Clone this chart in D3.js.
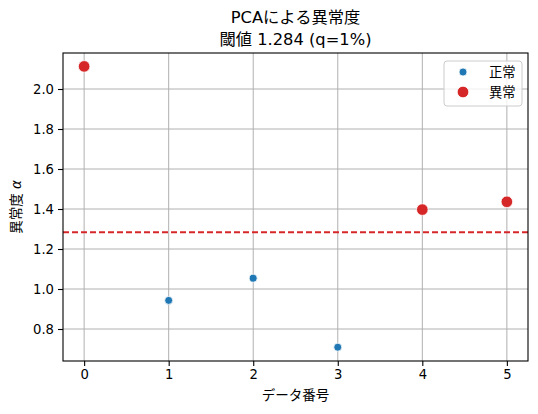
<!DOCTYPE html>
<html><head><meta charset="utf-8">
<script src="https://cdn.jsdelivr.net/npm/d3@7"></script>
<style>body{margin:0;background:#fff}svg{display:block}text{font-family:"DejaVu Sans","Noto Sans CJK JP",sans-serif;fill:#000}</style>
</head><body><svg id="c" width="538" height="414"></svg>
<script>
const indices = [0, 1, 2, 3, 4, 5];
const scores = [2.113, 0.943, 1.054, 0.709, 1.397, 1.436];
const threshold = 1.284;
const labels = ["異常", "正常", "正常", "正常", "異常", "異常"];
const xTicks = [0, 1, 2, 3, 4, 5];
const yTicks = [0.8, 1.0, 1.2, 1.4, 1.6, 1.8, 2.0];
const titleLines = ["PCAによる異常度", "閾値 1.284 (q=1%)"];
const legendItems = ["正常", "異常"];

const FONT = '"DejaVu Sans","Noto Sans CJK JP",sans-serif';
const svg = d3.select("#c");
const L = 63, R = 528, T = 53, B = 361;
const x = d3.scaleLinear().domain([-0.25, 5.25]).range([L, R]);
const y = d3.scaleLinear().domain([0.64, 2.18]).range([B, T]);

// grid
svg.append("g").selectAll("line").data(xTicks).join("line")
  .attr("x1", d => x(d)).attr("x2", d => x(d)).attr("y1", T).attr("y2", B)
  .attr("stroke", "#b0b0b0").attr("stroke-width", 1);
svg.append("g").selectAll("line").data(yTicks).join("line")
  .attr("x1", L).attr("x2", R).attr("y1", d => y(d)).attr("y2", d => y(d))
  .attr("stroke", "#b0b0b0").attr("stroke-width", 1);

// axes
const xa = svg.append("g").attr("transform", `translate(0,${B})`)
  .call(d3.axisBottom(x).tickValues(xTicks).tickFormat(d3.format("d")).tickSize(5).tickPadding(4));
const ya = svg.append("g").attr("transform", `translate(${L},0)`)
  .call(d3.axisLeft(y).tickValues(yTicks).tickFormat(d3.format(".1f")).tickSize(5).tickPadding(4));
[xa, ya].forEach(g => {
  g.select(".domain").remove();
  g.selectAll("line").attr("stroke", "#000").attr("stroke-width", 1.1);
  g.selectAll("text").attr("font-size", 13.2).style("font-family", FONT).attr("fill", "#111");
});

// threshold line
svg.append("line").attr("x1", L).attr("x2", R).attr("y1", y(threshold)).attr("y2", y(threshold))
  .attr("stroke", "#d62728").attr("stroke-width", 2).attr("stroke-dasharray", "6,3");

// points
const pts = indices.map((d, i) => ({i: d, v: scores[i], l: labels[i]}));
svg.append("g").selectAll("circle").data(pts).join("circle")
  .attr("cx", d => x(d.i)).attr("cy", d => y(d.v))
  .attr("r", d => d.l === "異常" ? 5.8 : 4)
  .attr("fill", d => d.l === "異常" ? "#d62728" : "#1f77b4")
  .attr("stroke", "#fff").attr("stroke-width", 0.8);

// frame
svg.append("rect").attr("x", L).attr("y", T).attr("width", R - L).attr("height", B - T)
  .attr("fill", "none").attr("stroke", "#000").attr("stroke-width", 1.1);

// title
svg.append("text").attr("x", (L + R) / 2).attr("y", 23).attr("text-anchor", "middle").attr("font-size", 16.3).attr("fill", "#111").text(titleLines[0]);
svg.append("text").attr("x", (L + R) / 2).attr("y", 45).attr("text-anchor", "middle").attr("font-size", 16.3).attr("fill", "#111").text(titleLines[1]);

// axis labels
svg.append("text").attr("x", (L + R) / 2).attr("y", 400).attr("text-anchor", "middle").attr("font-size", 13.5).attr("fill", "#111").text("データ番号");
const yl = svg.append("text").attr("transform", `translate(21,${(T + B) / 2}) rotate(-90)`).attr("text-anchor", "middle").attr("font-size", 13.5).attr("fill", "#111");
yl.append("tspan").text("異常度 ");
yl.append("tspan").attr("font-style", "italic").text("α");

// legend
const lg = svg.append("g");
lg.append("rect").attr("x", 444).attr("y", 61).attr("width", 78).attr("height", 45).attr("rx", 3)
  .attr("fill", "#fff").attr("fill-opacity", 0.8).attr("stroke", "#cccccc").attr("stroke-width", 1);
legendItems.forEach((t, i) => {
  const yy = 72 + i * 20;
  lg.append("circle").attr("cx", 463).attr("cy", yy).attr("r", i === 0 ? 4 : 5.8)
    .attr("fill", i === 0 ? "#1f77b4" : "#d62728").attr("stroke", "#fff").attr("stroke-width", 0.8);
  lg.append("text").attr("x", 489).attr("y", yy + 5).attr("font-size", 13.3).attr("fill", "#111").text(t);
});
</script></body></html>
